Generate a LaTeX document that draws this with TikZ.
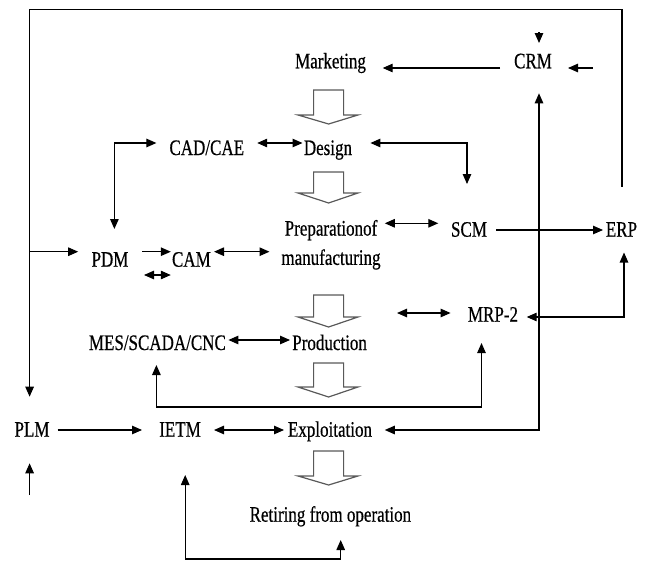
\documentclass[tikz,border=0pt]{standalone}
\usepackage{fontspec}
\usepackage{graphicx}
\setmainfont{Liberation Serif}[FakeBold=0.6]
\usetikzlibrary{arrows.meta}
\newcommand{\sy}[1]{\scalebox{1}[1.3]{#1}}
\newcommand{\harrow}[3]{\draw[hollow] (313.6,#1) -- (343.6,#1) -- (343.6,#2) -- (358,#2) -- (328.6,#3) -- (298,#2) -- (313.6,#2) -- cycle;}
\begin{document}
\begin{tikzpicture}[x=1pt,y=-1pt,
  lbl/.style={inner sep=0pt, anchor=base, font=\fontsize{17}{20}\selectfont},
  ln/.style={line width=1.15pt, black},
  arr/.style={ln, -{Triangle[length=10pt,width=8.5pt]}},
  darr/.style={ln, {Triangle[length=10pt,width=8.5pt]}-{Triangle[length=10pt,width=8.5pt]}},
  hollow/.style={draw=black!65, line width=1.2pt, fill=white, line join=miter}]
\useasboundingbox (0,0) rectangle (646,562);

% nodes
\node[lbl] (mkt) at (330.5,68.3) {\sy{Marketing}};
\node[lbl] (crm) at (533,68.3) {\sy{CRM}};
\node[lbl] (cad) at (206.8,155) {\sy{CAD/CAE}};
\node[lbl] (des) at (328,155) {\sy{Design}};
\node[lbl, anchor=center, align=center, font=\fontsize{17}{29.3}\selectfont] (prep) at (331,244.8) {\sy{Preparationof}\\\sy{manufacturing}};
\node[lbl] (scm) at (469,236.7) {\sy{SCM}};
\node[lbl] (erp) at (621.5,236.7) {\sy{ERP}};
\node[lbl] (pdm) at (110,266.7) {\sy{PDM}};
\node[lbl] (cam) at (191.4,266.7) {\sy{CAM}};
\node[lbl] (mrp) at (493,321.7) {\sy{MRP-2}};
\node[lbl] (mes) at (157.4,350) {\sy{MES/SCADA/CNC}};
\node[lbl] (prod) at (329.6,350) {\sy{Production}};
\node[lbl] (plm) at (32,436.7) {\sy{PLM}};
\node[lbl] (ietm) at (180,436.7) {\sy{IETM}};
\node[lbl] (expl) at (330,436.7) {\sy{Exploitation}};
\node[lbl] (ret) at (330.4,521.7) {\sy{Retiring from operation}};

% hollow flow arrows
\harrow{90}{115}{124}
\harrow{172}{193}{203}
\harrow{295}{317}{327}
\harrow{363}{387}{397}
\harrow{451}{476}{485}

% coordinates
\coordinate (crmA) at (539,32);   \coordinate (crmB) at (539,43);
\coordinate (rsA) at (592.6,68);  \coordinate (rsB) at (568,68);
\coordinate (cmA) at (500,68);    \coordinate (cmB) at (382.7,68);
\coordinate (b0) at (622,186.7);  \coordinate (b1) at (622,9.3);
\coordinate (b2) at (29.6,9.3);   \coordinate (b3) at (29.6,396.7);
\coordinate (pdA) at (29.6,251.7); \coordinate (pdB) at (78.2,251.7);
\coordinate (cb0) at (114.4,229); \coordinate (cb1) at (114.4,143); \coordinate (cb2) at (156.4,143);
\coordinate (cdA) at (257.2,143); \coordinate (cdB) at (302.5,143);
\coordinate (ds0) at (370.4,143); \coordinate (ds1) at (467,143); \coordinate (ds2) at (467,184);
\coordinate (cr0) at (539,93.3);  \coordinate (cr1) at (539,430); \coordinate (cr2) at (384.8,430);
\coordinate (psA) at (384.8,223.3); \coordinate (psB) at (438.3,223.3);
\coordinate (seA) at (496,230);   \coordinate (seB) at (603,230);
\coordinate (pcA) at (142,251.7); \coordinate (pcB) at (170.8,251.7);
\coordinate (smA) at (144,275);   \coordinate (smB) at (170.8,275);
\coordinate (cmfA) at (214,251.7); \coordinate (cmfB) at (269.5,251.7);
\coordinate (mrA) at (397,313);   \coordinate (mrB) at (450.6,313);
\coordinate (em0) at (526.7,317); \coordinate (em1) at (624,317); \coordinate (em2) at (624,252.5);
\coordinate (mpA) at (228.4,340); \coordinate (mpB) at (290,340);
\coordinate (ml0) at (156.4,365); \coordinate (ml1) at (156.4,407); \coordinate (ml2) at (481.5,407); \coordinate (ml3) at (481.5,343);
\coordinate (plA) at (57.6,430);  \coordinate (plB) at (142,430);
\coordinate (ieA) at (214,430);   \coordinate (ieB) at (284,430);
\coordinate (puA) at (29.6,495);  \coordinate (puB) at (29.6,463.3);
\coordinate (il0) at (185.2,475); \coordinate (il1) at (185.2,559); \coordinate (il2) at (340.7,559); \coordinate (il3) at (340.7,540);

% connectors
\draw[arr] (crmA) -- (crmB);
\draw[arr] (rsA) -- (rsB);
\draw[arr] (cmA) -- (cmB);
\draw[arr] (b0) -- (b1) -- (b2) -- (b3);
\draw[arr] (pdA) -- (pdB);
\draw[darr] (cb0) -- (cb1) -- (cb2);
\draw[darr] (cdA) -- (cdB);
\draw[darr] (ds0) -- (ds1) -- (ds2);
\draw[darr] (cr0) -- (cr1) -- (cr2);
\draw[darr] (psA) -- (psB);
\draw[arr] (seA) -- (seB);
\draw[arr] (pcA) -- (pcB);
\draw[darr] (smA) -- (smB);
\draw[darr] (cmfA) -- (cmfB);
\draw[darr] (mrA) -- (mrB);
\draw[darr] (em0) -- (em1) -- (em2);
\draw[darr] (mpA) -- (mpB);
\draw[darr] (ml0) -- (ml1) -- (ml2) -- (ml3);
\draw[arr] (plA) -- (plB);
\draw[darr] (ieA) -- (ieB);
\draw[arr] (puA) -- (puB);
\draw[darr] (il0) -- (il1) -- (il2) -- (il3);
\end{tikzpicture}
\end{document}
